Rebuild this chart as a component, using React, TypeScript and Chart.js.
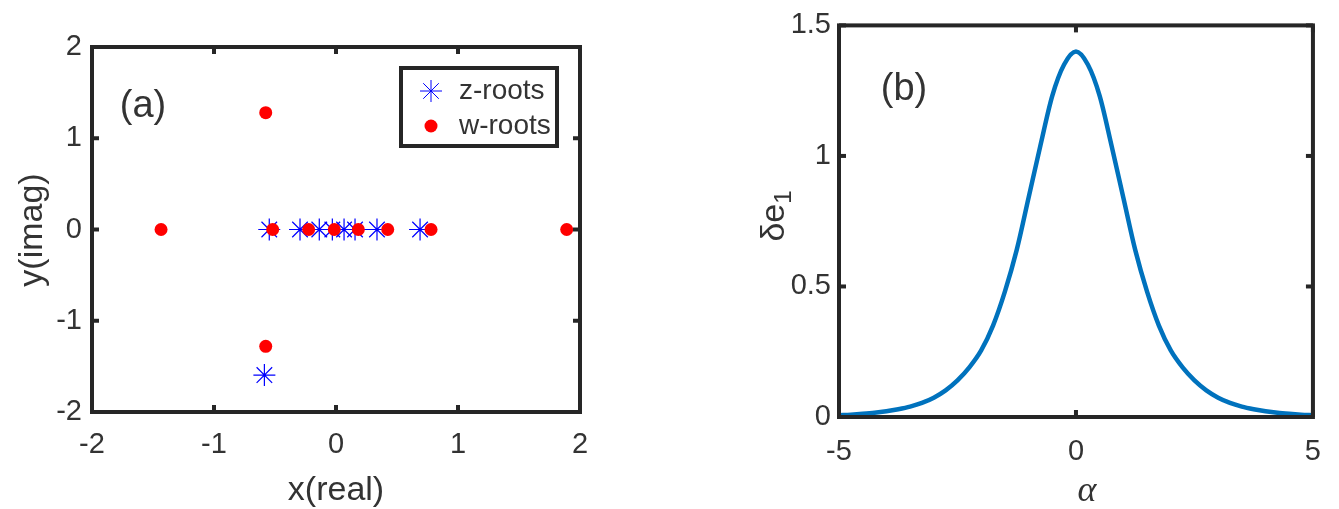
import React, { useEffect, useRef } from "react";
import { Chart, registerables } from "chart.js";

Chart.register(...registerables);

// ---------- data ----------
const zRootsRe = [-0.547, -0.295, -0.137, -0.03, 0.066, 0.156, 0.336, 0.689, -0.587];
const zRootsIm = [0, 0, 0, 0, 0, 0, 0, 0, -1.595];
const wRootsRe = [-1.434, -0.576, -0.576, -0.519, -0.224, -0.014, 0.183, 0.424, 0.779, 1.891];
const wRootsIm = [0, 1.28, -1.28, 0, 0, 0, 0, 0, 0, 0];
const legendLabels = ["z-roots", "w-roots"];
const xTicksA = [-2, -1, 0, 1, 2];
const yTicksA = [-2, -1, 0, 1, 2];
const xTickLabelsA = ["-2", "-1", "0", "1", "2"];
const yTickLabelsA = ["-2", "-1", "0", "1", "2"];

const alphaVals = [
  -5, -4.75, -4.5, -4.25, -4, -3.75, -3.5, -3.25, -3, -2.75, -2.5, -2.25, -2, -1.75, -1.5, -1.25, -1, -0.75, -0.5,
  -0.25, 0, 0.25, 0.5, 0.75, 1, 1.25, 1.5, 1.75, 2, 2.25, 2.5, 2.75, 3, 3.25, 3.5, 3.75, 4, 4.25, 4.5, 4.75, 5,
];
const deltaE1 = [
  0.007, 0.009, 0.012, 0.016, 0.022, 0.03, 0.04, 0.054, 0.074, 0.102, 0.14, 0.19, 0.255, 0.35, 0.48, 0.64, 0.84,
  1.04, 1.23, 1.35, 1.4, 1.35, 1.23, 1.04, 0.84, 0.64, 0.48, 0.35, 0.255, 0.19, 0.14, 0.102, 0.074, 0.054, 0.04,
  0.03, 0.022, 0.016, 0.012, 0.009, 0.007,
];
const xTicksB = [-5, 0, 5];
const yTicksB = [0, 0.5, 1, 1.5];
const xTickLabelsB = ["-5", "0", "5"];
const yTickLabelsB = ["0", "0.5", "1", "1.5"];

// ---------- styles ----------
const SANS = "'Liberation Sans', Arial, Helvetica, sans-serif";
const TXT = "#333333";
const AXIS = "#262626";

const decor = {
  id: "decor",
  afterDraw(chart: any, _a: any, o: any) {
    const { ctx, chartArea: ca, scales } = chart;
    ctx.save();
    ctx.strokeStyle = AXIS;
    ctx.lineCap = "butt";
    const tl = 7;
    ctx.lineWidth = 4;
    const seg = (x1: number, y1: number, x2: number, y2: number) => {
      ctx.beginPath();
      ctx.moveTo(x1, y1);
      ctx.lineTo(x2, y2);
      ctx.stroke();
    };
    for (const v of o.xTicks) {
      const px = scales.x.getPixelForValue(v);
      seg(px, ca.bottom, px, ca.bottom - tl);
      seg(px, ca.top, px, ca.top + tl);
    }
    for (const v of o.yTicks) {
      const py = scales.y.getPixelForValue(v);
      seg(ca.left, py, ca.left + tl, py);
      seg(ca.right, py, ca.right - tl, py);
    }
    ctx.strokeRect(ca.left, ca.top, ca.right - ca.left, ca.bottom - ca.top);

    // panel label
    ctx.fillStyle = TXT;
    ctx.textAlign = "center";
    ctx.textBaseline = "middle";
    ctx.font = `38px ${SANS}`;
    ctx.fillText(o.panel.text, o.panel.x, o.panel.y);

    // x title
    ctx.font = o.xTitle.font;
    ctx.fillText(o.xTitle.text, o.xTitle.x, o.xTitle.y);

    // y title (rotated)
    ctx.save();
    ctx.translate(o.yTitle.x, o.yTitle.y);
    ctx.rotate(-Math.PI / 2);
    ctx.font = o.yTitle.font;
    if (o.yTitle.sub) {
      const w1 = ctx.measureText(o.yTitle.text).width;
      ctx.font = o.yTitle.subFont;
      const w2 = ctx.measureText(o.yTitle.sub).width;
      const start = -(w1 + w2) / 2;
      ctx.textAlign = "left";
      ctx.font = o.yTitle.font;
      ctx.fillText(o.yTitle.text, start, 0);
      ctx.font = o.yTitle.subFont;
      ctx.fillText(o.yTitle.sub, start + w1, 9);
    } else {
      ctx.fillText(o.yTitle.text, 0, 0);
    }
    ctx.restore();

    // legend
    if (o.legend) {
      const L = o.legend;
      ctx.fillStyle = "#ffffff";
      ctx.fillRect(L.x, L.y, L.w, L.h);
      ctx.lineWidth = 4;
      ctx.strokeStyle = AXIS;
      ctx.strokeRect(L.x, L.y, L.w, L.h);
      const ds = chart.data.datasets;
      const rows = [L.y + 23, L.y + 58];
      const mx = L.x + 30;
      ctx.strokeStyle = ds[0].borderColor;
      ctx.lineWidth = 1;
      const r = 11;
      seg(mx - r, rows[0], mx + r, rows[0]);
      seg(mx, rows[0] - r, mx, rows[0] + r);
      const d = r * Math.SQRT1_2;
      seg(mx - d, rows[0] - d, mx + d, rows[0] + d);
      seg(mx - d, rows[0] + d, mx + d, rows[0] - d);
      ctx.fillStyle = ds[1].backgroundColor;
      ctx.beginPath();
      ctx.arc(mx, rows[1], 6.5, 0, Math.PI * 2);
      ctx.fill();
      ctx.fillStyle = TXT;
      ctx.textAlign = "left";
      ctx.textBaseline = "middle";
      ctx.font = `28px ${SANS}`;
      ctx.fillText(ds[0].label, L.x + 58, rows[0]);
      ctx.fillText(ds[1].label, L.x + 58, rows[1]);
    }
    ctx.restore();
  },
};

function axisCfg(min: number, max: number, ticks: number[], labels: string[], fit: (s: any) => void, pad: number) {
  return {
    type: "linear",
    min,
    max,
    afterBuildTicks: (s: any) => {
      s.ticks = ticks.map((v) => ({ value: v }));
    },
    afterFit: fit,
    grid: { display: false, drawTicks: false },
    border: { display: false },
    ticks: {
      font: { family: SANS, size: 29 },
      color: TXT,
      padding: pad,
      maxRotation: 0,
      autoSkip: false,
      callback: (v: number) => {
        const i = ticks.indexOf(v);
        return i >= 0 ? labels[i] : "";
      },
    },
  };
}

function RootsChart() {
  const ref = useRef<HTMLCanvasElement>(null);
  useEffect(() => {
    const chart = new Chart(ref.current as HTMLCanvasElement, {
      type: "scatter",
      data: {
        datasets: [
          {
            label: legendLabels[0],
            data: zRootsRe.map((x, i) => ({ x, y: zRootsIm[i] })),
            pointStyle: "star",
            pointRadius: 11,
            borderColor: "#0000ff",
            backgroundColor: "rgba(0,0,0,0)",
            borderWidth: 1.2,
            order: 2,
          },
          {
            label: legendLabels[1],
            data: wRootsRe.map((x, i) => ({ x, y: wRootsIm[i] })),
            pointStyle: "circle",
            pointRadius: 6.5,
            borderWidth: 0,
            backgroundColor: "#ff0000",
            borderColor: "#ff0000",
            order: 1,
          },
        ],
      },
      options: {
        responsive: false,
        animation: false,
        events: [],
        layout: { padding: { left: 0, top: 47, right: 60, bottom: 0 } },
        scales: {
          x: axisCfg(-2, 2, xTicksA, xTickLabelsA, (s: any) => { s.height = 97; }, 16),
          y: axisCfg(-2, 2, yTicksA, yTickLabelsA, (s: any) => { s.width = 92; }, 10),
        } as any,
        plugins: {
          legend: { display: false },
          tooltip: { enabled: false },
          decor: {
            xTicks: xTicksA,
            yTicks: yTicksA,
            panel: { text: "(a)", x: 143, y: 107 },
            xTitle: { text: "x(real)", x: 336, y: 491, font: `34px ${SANS}` },
            yTitle: { text: "y(imag)", x: 33, y: 230, font: `34px ${SANS}` },
            legend: { x: 401, y: 68, w: 156, h: 78 },
          },
        } as any,
      },
      plugins: [decor],
    } as any);
    return () => chart.destroy();
  }, []);
  return <canvas ref={ref} width={640} height={509} style={{ position: "absolute", left: 0, top: 0 }} />;
}

function CurveChart() {
  const ref = useRef<HTMLCanvasElement>(null);
  useEffect(() => {
    const chart = new Chart(ref.current as HTMLCanvasElement, {
      type: "scatter",
      data: {
        datasets: [
          {
            label: "δe1",
            data: alphaVals.map((x, i) => ({ x, y: deltaE1[i] })),
            showLine: true,
            pointRadius: 0,
            borderColor: "#0072BD",
            borderWidth: 4.5,
            cubicInterpolationMode: "monotone",
          },
        ],
      },
      options: {
        responsive: false,
        animation: false,
        events: [],
        layout: { padding: { left: 0, top: 23, right: 26, bottom: 0 } },
        scales: {
          x: axisCfg(-5, 5, xTicksB, xTickLabelsB, (s: any) => { s.height = 92; }, 18),
          y: axisCfg(0, 1.5, yTicksB, yTickLabelsB, (s: any) => { s.width = 139; }, 8),
        } as any,
        plugins: {
          legend: { display: false },
          tooltip: { enabled: false },
          decor: {
            xTicks: xTicksB,
            yTicks: yTicksB,
            panel: { text: "(b)", x: 204, y: 90 },
            xTitle: { text: "α", x: 387, y: 492, font: `italic 36px 'Liberation Serif', 'DejaVu Serif', serif` },
            yTitle: { text: "δe", sub: "1", x: 75, y: 216, font: `34px ${SANS}`, subFont: `24px ${SANS}` },
          },
        } as any,
      },
      plugins: [decor],
    } as any);
    return () => chart.destroy();
  }, []);
  return <canvas ref={ref} width={639} height={509} style={{ position: "absolute", left: 700, top: 0 }} />;
}

export default function App() {
  return (
    <div style={{ position: "fixed", left: 0, top: 0, width: 1339, height: 509, background: "#ffffff" }}>
      <RootsChart />
      <CurveChart />
    </div>
  );
}
